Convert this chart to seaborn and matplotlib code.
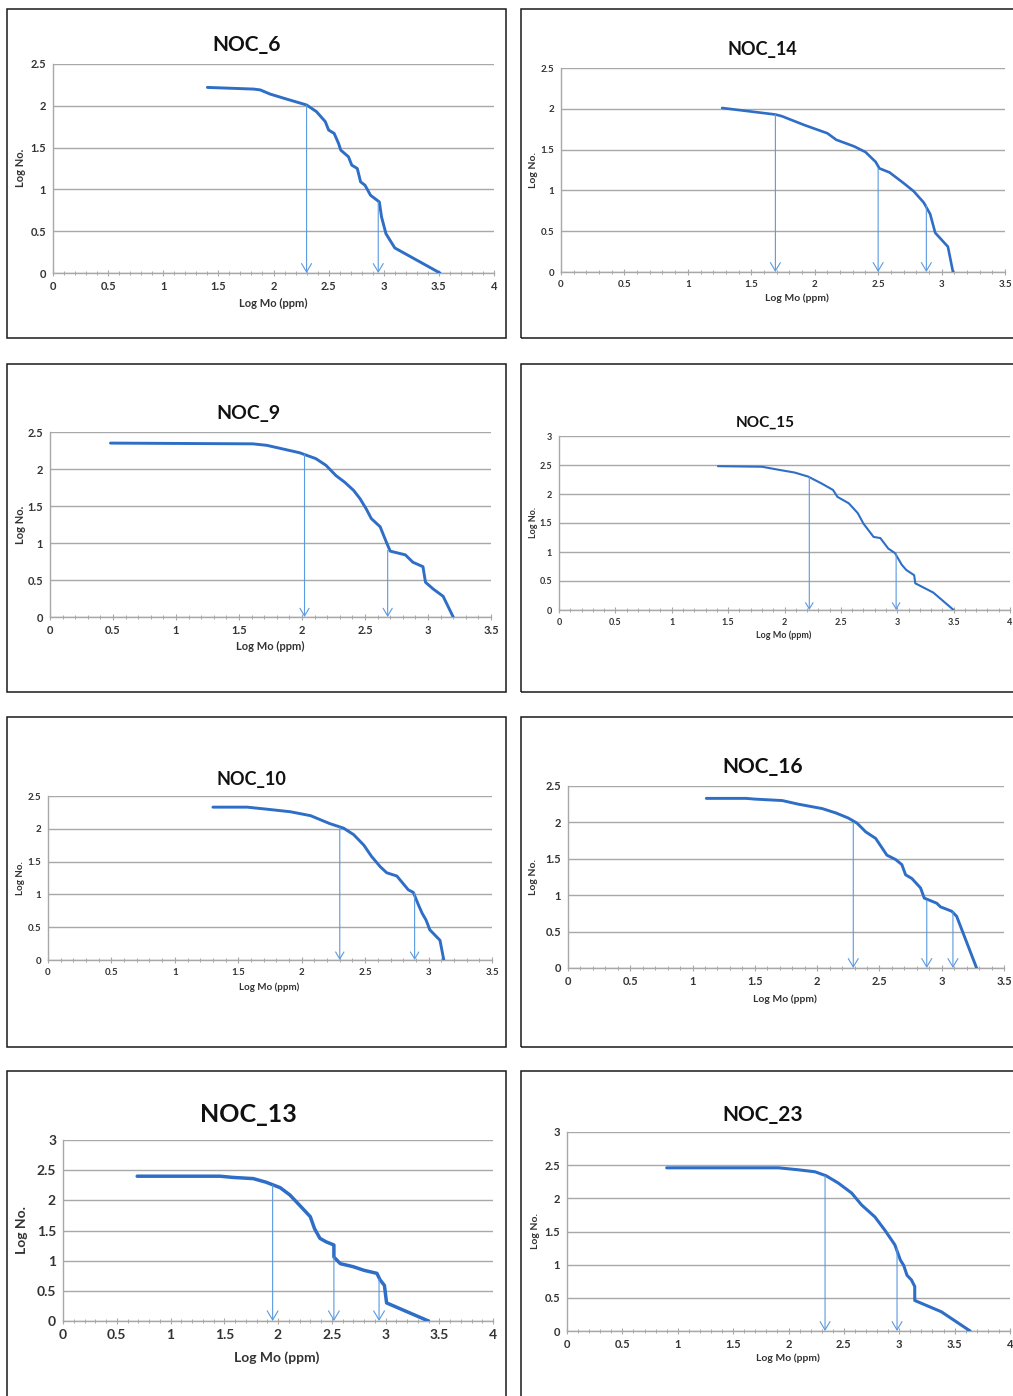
import numpy as np
import pandas as pd
import matplotlib
matplotlib.use("Agg")
import matplotlib.pyplot as plt
from matplotlib.patches import Rectangle
from matplotlib.ticker import MultipleLocator
import seaborn as sns

# ---------------- data ----------------
titles = ["NOC_6", "NOC_14", "NOC_9", "NOC_15", "NOC_10", "NOC_16", "NOC_13", "NOC_23"]

noc6_x = [1.40, 1.82, 1.88, 1.97, 2.12, 2.30, 2.39, 2.47, 2.50, 2.55, 2.59, 2.61, 2.68, 2.71, 2.76, 2.79, 2.83, 2.88, 2.96, 2.98, 3.02, 3.10, 3.51]
noc6_y = [2.22, 2.20, 2.19, 2.14, 2.08, 2.01, 1.93, 1.81, 1.71, 1.67, 1.55, 1.47, 1.39, 1.29, 1.25, 1.09, 1.05, 0.93, 0.85, 0.67, 0.47, 0.30, 0.00]
noc6_arrow_x = [2.30, 2.95]
noc6_arrow_y = [2.01, 0.85]

noc14_x = [1.27, 1.69, 1.74, 1.92, 2.10, 2.17, 2.31, 2.40, 2.48, 2.51, 2.59, 2.70, 2.78, 2.86, 2.91, 2.95, 3.05, 3.09]
noc14_y = [2.01, 1.93, 1.91, 1.80, 1.70, 1.62, 1.54, 1.47, 1.35, 1.27, 1.22, 1.09, 0.99, 0.85, 0.71, 0.48, 0.31, 0.00]
noc14_arrow_x = [1.69, 2.50, 2.88]
noc14_arrow_y = [1.93, 1.27, 0.82]

noc9_x = [0.48, 1.61, 1.72, 1.85, 1.98, 2.11, 2.19, 2.27, 2.34, 2.41, 2.46, 2.51, 2.55, 2.62, 2.67, 2.70, 2.82, 2.88, 2.96, 2.98, 3.04, 3.12, 3.20]
noc9_y = [2.35, 2.34, 2.32, 2.27, 2.22, 2.14, 2.05, 1.91, 1.82, 1.71, 1.60, 1.46, 1.33, 1.22, 1.01, 0.89, 0.84, 0.74, 0.68, 0.47, 0.38, 0.28, 0.00]
noc9_arrow_x = [2.02, 2.68]
noc9_arrow_y = [2.20, 0.90]

noc15_x = [1.41, 1.80, 1.97, 2.09, 2.21, 2.33, 2.43, 2.47, 2.57, 2.65, 2.70, 2.79, 2.85, 2.92, 2.98, 3.04, 3.08, 3.15, 3.16, 3.32, 3.50]
noc15_y = [2.48, 2.47, 2.41, 2.37, 2.30, 2.18, 2.07, 1.95, 1.84, 1.67, 1.49, 1.26, 1.24, 1.06, 0.98, 0.78, 0.69, 0.60, 0.46, 0.30, 0.00]
noc15_arrow_x = [2.22, 2.99]
noc15_arrow_y = [2.29, 0.98]

noc10_x = [1.30, 1.57, 1.72, 1.91, 2.07, 2.22, 2.33, 2.41, 2.49, 2.55, 2.62, 2.67, 2.75, 2.81, 2.84, 2.88, 2.92, 2.95, 2.98, 3.01, 3.09, 3.12]
noc10_y = [2.33, 2.33, 2.30, 2.26, 2.20, 2.08, 2.01, 1.91, 1.75, 1.58, 1.42, 1.33, 1.28, 1.14, 1.07, 1.03, 0.84, 0.71, 0.61, 0.46, 0.30, 0.00]
noc10_arrow_x = [2.30, 2.89]
noc10_arrow_y = [2.02, 1.02]

noc16_x = [1.11, 1.43, 1.50, 1.72, 1.85, 2.04, 2.15, 2.25, 2.32, 2.39, 2.47, 2.56, 2.63, 2.68, 2.71, 2.76, 2.83, 2.86, 2.96, 2.99, 3.08, 3.12, 3.28]
noc16_y = [2.33, 2.33, 2.32, 2.30, 2.25, 2.19, 2.13, 2.06, 1.99, 1.87, 1.78, 1.55, 1.49, 1.42, 1.28, 1.23, 1.10, 0.96, 0.89, 0.84, 0.78, 0.71, 0.00]
noc16_arrow_x = [2.29, 2.88, 3.09]
noc16_arrow_y = [2.00, 0.93, 0.77]

noc13_x = [0.69, 1.46, 1.58, 1.77, 1.89, 2.02, 2.11, 2.20, 2.30, 2.34, 2.39, 2.45, 2.52, 2.52, 2.58, 2.70, 2.80, 2.92, 2.95, 2.99, 3.01, 3.14, 3.40]
noc13_y = [2.40, 2.40, 2.38, 2.36, 2.30, 2.21, 2.09, 1.92, 1.73, 1.53, 1.37, 1.31, 1.26, 1.06, 0.95, 0.90, 0.84, 0.79, 0.68, 0.59, 0.30, 0.20, 0.00]
noc13_arrow_x = [1.95, 2.52, 2.94]
noc13_arrow_y = [2.25, 1.06, 0.70]

noc23_x = [0.90, 1.91, 2.09, 2.24, 2.34, 2.45, 2.57, 2.66, 2.78, 2.87, 2.96, 3.01, 3.04, 3.07, 3.11, 3.14, 3.14, 3.38, 3.64]
noc23_y = [2.46, 2.46, 2.43, 2.40, 2.34, 2.23, 2.08, 1.90, 1.72, 1.52, 1.30, 1.07, 0.99, 0.84, 0.77, 0.67, 0.46, 0.29, 0.00]
noc23_arrow_x = [2.33, 2.98]
noc23_arrow_y = [2.34, 1.25]

x_max = [4, 3.5, 3.5, 4, 3.5, 3.5, 4, 4]
y_max = [2.5, 2.5, 2.5, 3, 2.5, 2.5, 3, 3]

xlabel_text = "Log Mo (ppm)"
ylabel_text = "Log No."

series = [
    (noc6_x, noc6_y, noc6_arrow_x, noc6_arrow_y),
    (noc14_x, noc14_y, noc14_arrow_x, noc14_arrow_y),
    (noc9_x, noc9_y, noc9_arrow_x, noc9_arrow_y),
    (noc15_x, noc15_y, noc15_arrow_x, noc15_arrow_y),
    (noc10_x, noc10_y, noc10_arrow_x, noc10_arrow_y),
    (noc16_x, noc16_y, noc16_arrow_x, noc16_arrow_y),
    (noc13_x, noc13_y, noc13_arrow_x, noc13_arrow_y),
    (noc23_x, noc23_y, noc23_arrow_x, noc23_arrow_y),
]

# ---------------- layout (pixels) ----------------
W, H = 1013, 1396
boxes = [(7, 9, 506, 338), (521, 9, 1030, 338),
         (7, 364, 506, 692), (521, 364, 1030, 692),
         (7, 717, 506, 1047), (521, 717, 1030, 1047),
         (7, 1071, 506, 1420), (521, 1071, 1030, 1420)]
axes_px = [(53, 64, 494, 273), (561, 68, 1005, 272),
           (50, 432, 491, 617), (559, 436, 1010, 610),
           (48, 796, 492, 960), (568, 786, 1004, 968),
           (63, 1140, 493, 1321), (567, 1132, 1010, 1331)]
title_pos = [(247, 45), (762, 50), (248, 413), (765, 423),
             (251, 780), (763, 767), (248, 1115), (763, 1115)]
title_size = [15, 13, 14, 11, 13, 15, 18, 15]
ylab_pos = [(20, 168), (533, 170), (20, 525), (533, 523),
            (20, 878), (533, 877), (22, 1230), (535, 1231)]
xlab_pos = [(273, 303), (797, 298), (270, 646), (784, 635),
            (269, 987), (785, 999), (277, 1358), (788, 1358)]
tick_size = [8, 7, 8, 6.5, 7, 8, 10, 8]
lab_size = [8, 7.5, 8, 6.5, 7, 7.5, 10, 7.5]
line_w = [2.1, 1.9, 2.1, 1.5, 2.1, 2.1, 2.5, 2.2]
arrow_scale = [12, 12, 11, 9, 10, 12, 13, 12]

LINE_C = "#2e6ec6"
ARROW_C = "#5a9ae0"
GRID_C = "#a8a8a8"
TEXT_C = "#333333"

sns.set_theme(style="white")
plt.rcParams["font.family"] = ["Lato", "DejaVu Sans"]

fig = plt.figure(figsize=(W / 100, H / 100), dpi=100)
fig.patch.set_facecolor("white")


def fx(x):
    return x / W


def fy(y):
    return 1 - y / H


for (l, t, r, b) in boxes:
    fig.patches.append(Rectangle((fx(l), fy(b)), fx(r - l), (b - t) / H,
                                 transform=fig.transFigure, fill=False,
                                 edgecolor="#1a1a1a", linewidth=1.1))

for i in range(8):
    xs, ys, ax_x, ax_y = series[i]
    l, t, r, b = axes_px[i]
    ax = fig.add_axes([fx(l), fy(b), fx(r - l), (b - t) / H])
    ax.set_facecolor("none")
    df = pd.DataFrame({"x": xs, "y": ys})
    sns.lineplot(data=df, x="x", y="y", ax=ax, color=LINE_C, lw=line_w[i],
                 sort=False, estimator=None, zorder=4)
    for axx, ayy in zip(ax_x, ax_y):
        ax.annotate("", xy=(axx, 0), xytext=(axx, ayy),
                    arrowprops=dict(arrowstyle="->,head_length=0.5,head_width=0.3",
                                    color=ARROW_C, lw=0.8,
                                    mutation_scale=arrow_scale[i],
                                    shrinkA=0, shrinkB=0),
                    zorder=5, annotation_clip=False)
    ax.set_xlim(0, x_max[i])
    ax.set_ylim(0, y_max[i])
    ax.xaxis.set_major_locator(MultipleLocator(0.5))
    ax.xaxis.set_minor_locator(MultipleLocator(0.1))
    ax.yaxis.set_major_locator(MultipleLocator(0.5))
    ax.set_xticklabels([("%g" % v) for v in ax.get_xticks()])
    ax.set_yticklabels([("%g" % v) for v in ax.get_yticks()])
    ax.grid(axis="y", color=GRID_C, lw=1.0)
    ax.grid(axis="x", visible=False)
    ax.set_axisbelow(True)
    for s in ["top", "right"]:
        ax.spines[s].set_visible(False)
    for s in ["left", "bottom"]:
        ax.spines[s].set_color(GRID_C)
        ax.spines[s].set_linewidth(1.0)
    ax.tick_params(axis="x", which="major", direction="inout", length=5,
                   width=0.8, color=GRID_C, labelsize=tick_size[i],
                   labelcolor=TEXT_C, pad=3, bottom=True)
    ax.tick_params(axis="x", which="minor", direction="inout", length=3,
                   width=0.7, color=GRID_C, bottom=True)
    ax.tick_params(axis="y", which="major", length=0, labelsize=tick_size[i],
                   labelcolor=TEXT_C, pad=5)
    for lab in ax.get_xticklabels() + ax.get_yticklabels():
        lab.set_fontweight("bold")
    ax.set_xlabel("")
    ax.set_ylabel("")

    fig.text(fx(title_pos[i][0]), fy(title_pos[i][1]), titles[i],
             ha="center", va="center", fontsize=title_size[i],
             fontweight="bold", color="#111111")
    fig.text(fx(ylab_pos[i][0]), fy(ylab_pos[i][1]), ylabel_text,
             ha="center", va="center", rotation=90, fontsize=lab_size[i],
             fontweight="bold", color=TEXT_C)
    fig.text(fx(xlab_pos[i][0]), fy(xlab_pos[i][1]), xlabel_text,
             ha="center", va="center", fontsize=lab_size[i],
             fontweight="bold", color=TEXT_C)

fig.savefig("out.png", dpi=100, facecolor="white")
